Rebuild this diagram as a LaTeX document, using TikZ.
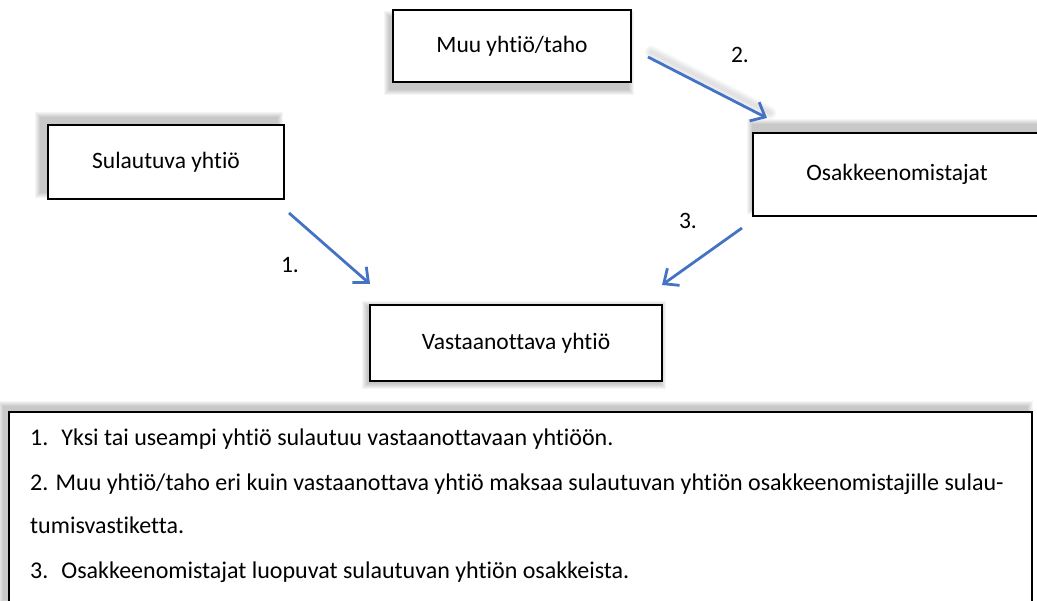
\documentclass[tikz,border=0pt]{standalone}
\usepackage{fontspec}
\setmainfont{Carlito}[Ligatures=NoCommon]
\usetikzlibrary{arrows.meta,backgrounds}
\definecolor{arrowblue}{RGB}{68,114,196}
\begin{document}
\begin{tikzpicture}[x=1pt,y=-1pt,
  box/.style={draw=black,line width=2.4pt,fill=white,inner sep=0pt,font=\fontsize{23.5}{28}\selectfont},
  flow/.style={draw=arrowblue,line width=2.8pt,-{Straight Barb[length=12pt,width=21pt]}},
  lbl/.style={font=\fontsize{23.5}{28}\selectfont,inner sep=0pt},
  note/.style={font=\fontsize{24}{28}\selectfont,inner sep=0pt,anchor=base west}
]
\useasboundingbox (0,0) rectangle (1037,601);
\clip (0,0) rectangle (1037,601);

\node[box,minimum width=238pt,minimum height=72pt] (muu) at (512,46) {Muu yhtiö/taho};
\node[box,minimum width=236pt,minimum height=74pt] (sul) at (166,162) {Sulautuva yhtiö};
\node[box,minimum width=288pt,minimum height=83pt] (osa) at (897,174.5) {Osakkeenomistajat};
\node[box,minimum width=292pt,minimum height=76pt] (vas) at (516,343) {Vastaanottava yhtiö};
\node[box,minimum width=1023pt,minimum height=192pt] (notebox) at (520.5,508) {};

\node[note] (t1) at (30,446) {1.\hspace{13pt}Yksi tai useampi yhtiö sulautuu vastaanottavaan yhtiöön.};
\node[note] (t2) at (30,491) {2. Muu yhtiö/taho eri kuin vastaanottava yhtiö maksaa sulautuvan yhtiön osakkeenomistajille sulau-};
\node[note] (t3) at (30,534) {tumisvastiketta.};
\node[note] (t4) at (30,578) {3.\hspace{13pt}Osakkeenomistajat luopuvat sulautuvan yhtiön osakkeista.};

\coordinate (a1s) at (289,213);
\coordinate (a1e) at (370,284);
\coordinate (a2s) at (648,57);
\coordinate (a2e) at (767,118);
\coordinate (a3s) at (742,228);
\coordinate (a3e) at (662,285);

\draw[flow] (a1s) -- (a1e);
\draw[flow] (a2s) -- (a2e);
\draw[flow] (a3s) -- (a3e);

\node[lbl] (l1) at (290,265) {1.};
\node[lbl] (l2) at (740,55) {2.};
\node[lbl] (l3) at (688,221) {3.};

\begin{scope}[on background layer]
  \foreach \n/\dx/\dy in {muu/-3/7, sul/-7/-7, osa/0/-8, vas/-2/2, notebox/-5/-5} {
    \foreach \i in {0,...,5} {
      \fill[black,opacity=0.04] ([shift={(\dx-\i,\dy+\i)}]\n.south west) rectangle ([shift={(\dx+\i,\dy-\i)}]\n.north east);
    }
  }
  \foreach \w in {4,8,12} {
    \draw[black,opacity=0.04,line width=\w pt,line cap=round] ([shift={(3,-5)}]a2s) -- ([shift={(3,-5)}]a2e);
  }
\end{scope}
\end{tikzpicture}
\end{document}
